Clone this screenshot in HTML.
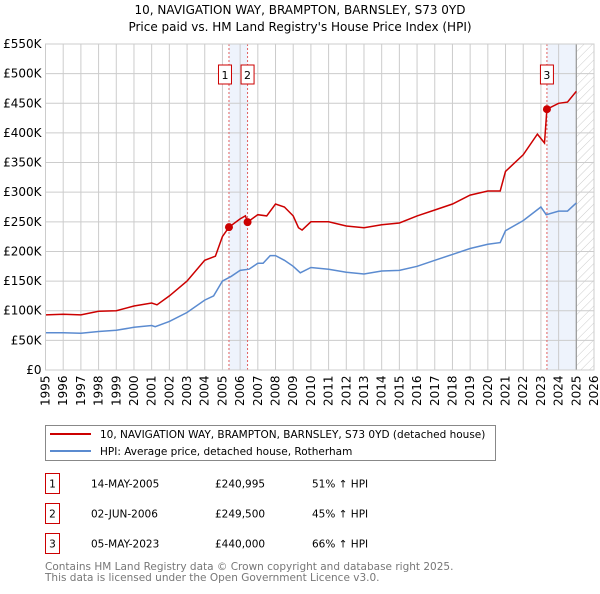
<!DOCTYPE html>
<html><head><meta charset="utf-8">
<style>
body{margin:0;background:#fff;font-family:"DejaVu Sans","Liberation Sans",sans-serif;}
svg text{font-family:"DejaVu Sans","Liberation Sans",sans-serif;}
</style></head>
<body>
<svg id="chart" width="600" height="590" xmlns="http://www.w3.org/2000/svg">
<defs>
<pattern id="hatch" patternUnits="userSpaceOnUse" width="6" height="6" patternTransform="rotate(45)">
<line x1="0" y1="0" x2="0" y2="6" stroke="#ccc" stroke-width="1"/>
</pattern>
</defs>
<text x="300" y="14" text-anchor="middle" font-size="12">10, NAVIGATION WAY, BRAMPTON, BARNSLEY, S73 0YD</text>
<text x="300" y="31" text-anchor="middle" font-size="12">Price paid vs. HM Land Registry's House Price Index (HPI)</text>
<g id="plot"></g>
<g>
<rect x="45.5" y="425.5" width="450" height="35" fill="#fff" stroke="#888"/>
<line x1="50" y1="434" x2="91" y2="434" stroke="#cc0000" stroke-width="2"/>
<text x="100" y="438" font-size="10.5">10, NAVIGATION WAY, BRAMPTON, BARNSLEY, S73 0YD (detached house)</text>
<line x1="50" y1="451" x2="91" y2="451" stroke="#5b8bd0" stroke-width="2"/>
<text x="100" y="455" font-size="10.5">HPI: Average price, detached house, Rotherham</text>
</g>
<g id="table" font-size="10.5"></g>
<text x="45" y="570" font-size="10.5" fill="#777">Contains HM Land Registry data © Crown copyright and database right 2025.</text>
<text x="45" y="581" font-size="10.5" fill="#777">This data is licensed under the Open Government Licence v3.0.</text>
</svg>
<script>
const yTicks=[0,50,100,150,200,250,300,350,400,450,500,550];
const xYears=[1995,1996,1997,1998,1999,2000,2001,2002,2003,2004,2005,2006,2007,2008,2009,2010,2011,2012,2013,2014,2015,2016,2017,2018,2019,2020,2021,2022,2023,2024,2025,2026];
const hpiX=[1995,1996,1997,1998,1999,2000,2001,2001.2,2002,2003,2004,2004.5,2005,2005.5,2006,2006.5,2007,2007.3,2007.7,2008,2008.5,2009,2009.4,2010,2011,2012,2013,2014,2015,2016,2017,2018,2019,2020,2020.7,2021,2022,2023,2023.3,2024,2024.5,2025];
const hpiY=[63,63,62,65,67,72,75,73,82,97,118,125,150,158,168,170,180,180,193,193,185,175,164,173,170,165,162,167,168,175,185,195,205,212,215,235,252,275,262,268,268,282];
const propX=[1995,1996,1997,1998,1999,2000,2001,2001.3,2002,2003,2004,2004.6,2005,2005.37,2006,2006.3,2006.42,2007,2007.5,2008,2008.5,2009,2009.3,2009.5,2010,2011,2012,2013,2014,2015,2016,2017,2018,2019,2020,2020.7,2021,2022,2022.8,2023.2,2023.34,2024,2024.5,2025];
const propY=[93,94,93,99,100,108,113,110,125,150,185,192,225,241,255,260,249.5,262,260,280,275,260,240,236,250,250,243,240,245,248,260,270,280,295,302,302,335,363,398,383,440,450,452,470];
const saleX=[2005.37,2006.42,2023.34];
const saleY=[240.995,249.5,440];
const saleLabels=["1","2","3"];
const saleDates=["14-MAY-2005","02-JUN-2006","05-MAY-2023"];
const salePrices=["£240,995","£249,500","£440,000"];
const saleHpi=["51% ↑ HPI","45% ↑ HPI","66% ↑ HPI"];

const NS="http://www.w3.org/2000/svg";
const X0=45.5,X1=594,Y0=370,Y1=44;
const sx=v=>X0+(v-1995)/(2026-1995)*(X1-X0);
const sy=v=>Y0-v/550*(Y0-Y1);
const plot=document.getElementById('plot');
function mk(t,a,p){const e=document.createElementNS(NS,t);for(const k in a)e.setAttribute(k,a[k]);(p||plot).appendChild(e);return e;}
// shaded spans
let s1=mk('rect',{x:sx(saleX[0]),y:Y1,width:sx(saleX[1])-sx(saleX[0]),height:Y0-Y1,fill:'#eef3fc'});


let s2=mk('rect',{x:sx(saleX[2]),y:Y1,width:sx(2025)-sx(saleX[2]),height:Y0-Y1,fill:'#eef3fc'});


let h=mk('rect',{x:sx(2025),y:Y1,width:X1-sx(2025),height:Y0-Y1,fill:'url(#hatch)'});


// grid
yTicks.forEach(t=>{
 let l=mk('line',{x1:X0,x2:X1,y1:sy(t*1000/1000),y2:sy(t),stroke:'#ccc','stroke-width':1});
 
 
 let tx=mk('text',{x:X0-4,y:sy(t)+4,'text-anchor':'end','font-size':12});
 tx.textContent=t===0?'£0':'£'+t+'K';
 
 
});
xYears.forEach(yr=>{
 let l=mk('line',{x1:sx(yr),x2:sx(yr),y1:Y1,y2:Y0,stroke:'#ccc','stroke-width':1});
 
 
 let tx=mk('text',{x:0,y:0,'font-size':12,transform:`translate(${sx(yr)+4},${Y0+36}) rotate(-90)`});
 tx.textContent=yr;
 
 
});
let dl=mk('line',{x1:sx(2025),x2:sx(2025),y1:Y1,y2:Y0,stroke:'#999','stroke-width':1.2});


// sale vlines
saleX.forEach((v,i)=>{
 let l=mk('line',{x1:sx(v),x2:sx(v),y1:Y1,y2:Y0,stroke:'#e06060','stroke-width':1,'stroke-dasharray':'2,2'});
 
 
});
function path(xs,ys){return xs.map((x,i)=>(i?'L':'M')+sx(x).toFixed(1)+','+sy(ys[i]).toFixed(1)).join('');}
let hp=mk('path',{d:path(hpiX,hpiY),fill:'none',stroke:'#5b8bd0','stroke-width':1.5});


let pp=mk('path',{d:path(propX,propY),fill:'none',stroke:'#cc0000','stroke-width':1.5});


saleX.forEach((v,i)=>{
 let c=mk('circle',{cx:sx(v),cy:sy(saleY[i]),r:4,fill:'#cc0000'});
 
 
 let g=mk('g',{});
 
 
 mk('rect',{x:sx(v)-17,y:65,width:13,height:19,fill:'#fff',stroke:'#cc0000'},g).setAttribute('x',i===0?sx(v)-10.5:sx(v)-6.5);
 let t=mk('text',{x:(i===0?sx(v)-4:sx(v)),y:79,'text-anchor':'middle','font-size':11},g);
 t.textContent=saleLabels[i];
});
let pb=mk('rect',{x:X0,y:Y1,width:X1-X0,height:Y0-Y1,fill:'none',stroke:'#ccc'});


// table
const tb=document.getElementById('table');
saleLabels.forEach((lab,i)=>{
 const y=484+i*30;
 let g=mk('g',{},tb);
 
 
 mk('rect',{x:45.5,y:y-10.5,width:14,height:20,fill:'#fff',stroke:'#cc0000'},g);
 let a=mk('text',{x:52.5,y:y+3.5,'text-anchor':'middle'},g);a.textContent=lab;
 let b=mk('text',{x:91,y:y+3.5},g);b.textContent=saleDates[i];
 let c=mk('text',{x:215,y:y+3.5},g);c.textContent=salePrices[i];
 let d=mk('text',{x:312,y:y+3.5},g);d.textContent=saleHpi[i];
});
</script>
</body></html>
